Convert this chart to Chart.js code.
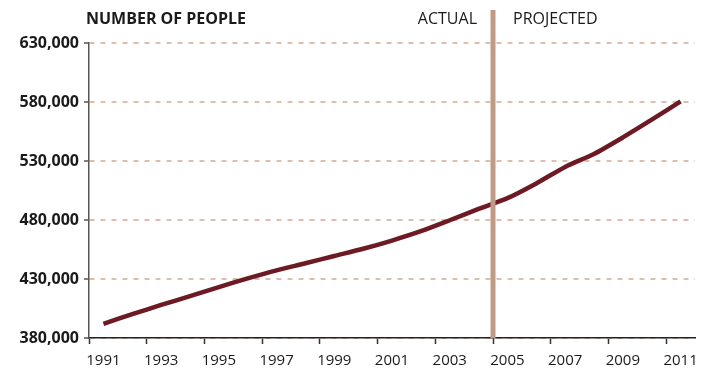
<!DOCTYPE html>
<html>
<head>
<meta charset="utf-8">
<script src="https://cdn.jsdelivr.net/npm/chart.js@4/dist/chart.umd.min.js"></script>
<style>
  html, body { margin: 0; padding: 0; background: #fff; }
  #wrap { width: 714px; height: 374px; position: relative; }
</style>
</head>
<body>
<div id="wrap"><canvas id="c"></canvas></div>
<script>
// Population by year: actual through 2004, projected from 2005 on
const years = ['1991','1992','1993','1994','1995','1996','1997','1998','1999','2000','2001',
               '2002','2003','2004','2005','2006','2007','2008','2009','2010','2011'];
const people = [392000, 400200, 408000, 415500, 423200, 430500, 437300, 443300, 449500, 455600, 462600,
                470500, 479800, 489400, 498500, 511000, 525000, 536000, 550000, 565000, 580500];
const yTicks = [380000, 430000, 480000, 530000, 580000, 630000];
const axisTitle = 'NUMBER OF PEOPLE';
const leftLabel = 'ACTUAL';
const rightLabel = 'PROJECTED';
const lastActualIndex = 13; // 2004

const FONT = '"Open Sans", "Liberation Sans", sans-serif';

// Divider between actual and projected years, plus the header texts
const dividerPlugin = {
  id: 'divider',
  afterDatasetsDraw(chart) {
    const { ctx, scales: { x }, chartArea } = chart;
    const xp = (x.getPixelForValue(lastActualIndex) + x.getPixelForValue(lastActualIndex + 1)) / 2;
    ctx.save();
    ctx.strokeStyle = '#c09a85';
    ctx.lineWidth = 5;
    ctx.beginPath();
    ctx.moveTo(xp, 10);
    ctx.lineTo(xp, chartArea.bottom);
    ctx.stroke();

    ctx.fillStyle = '#1a1a1a';
    ctx.textBaseline = 'middle';
    ctx.font = '16px ' + FONT;
    ctx.textAlign = 'right';
    ctx.fillText(leftLabel, xp - 16, 19);
    ctx.textAlign = 'left';
    ctx.fillText(rightLabel, xp + 20, 19);

    ctx.font = 'bold 16px ' + FONT;
    ctx.textAlign = 'left';
    ctx.fillText(axisTitle, 86, 19);
    ctx.restore();
  }
};

new Chart(document.getElementById('c'), {
  type: 'line',
  data: {
    labels: years,
    datasets: [{
      data: people,
      borderColor: '#6e1a24',
      borderWidth: 4.5,
      pointRadius: 0,
      tension: 0.25,
      fill: false
    }]
  },
  options: {
    responsive: true,
    maintainAspectRatio: false,
    animation: false,
    layout: { padding: { top: 43, right: 19, left: 0, bottom: 0 } },
    plugins: { legend: { display: false }, tooltip: { enabled: false } },
    scales: {
      x: {
        type: 'category',
        offset: true,
        afterFit(scale) { scale.height = 36; },
        border: { color: '#222', width: 1.5 },
        grid: {
          offset: true,
          drawOnChartArea: false,
          tickLength: 6,
          tickWidth: 1.5,
          tickColor: (c) => (c.index !== undefined && c.index % 2 === 0) ? '#333' : 'rgba(0,0,0,0)'
        },
        ticks: {
          autoSkip: false,
          maxRotation: 0,
          padding: 8,
          color: '#1a1a1a',
          font: { family: FONT, size: 15 },
          callback(v, i) { return i % 2 === 0 ? this.getLabelForValue(v) : ''; }
        }
      },
      y: {
        min: yTicks[0],
        max: yTicks[yTicks.length - 1],
        afterBuildTicks(scale) { scale.ticks = yTicks.map(v => ({ value: v })); },
        afterFit(scale) { scale.width = 89; },
        border: { color: '#555', width: 1.5, dash: [5, 6] },
        grid: {
          color: '#dcbfad',
          lineWidth: 2,
          tickLength: 5,
          tickColor: '#555',
          tickWidth: 1.5,
          tickBorderDash: []
        },
        ticks: {
          padding: 5,
          color: '#1a1a1a',
          font: { family: FONT, size: 16, weight: 'bold' },
          callback: (v) => v.toLocaleString('en-US')
        }
      }
    }
  },
  plugins: [dividerPlugin]
});
</script>
</body>
</html>
